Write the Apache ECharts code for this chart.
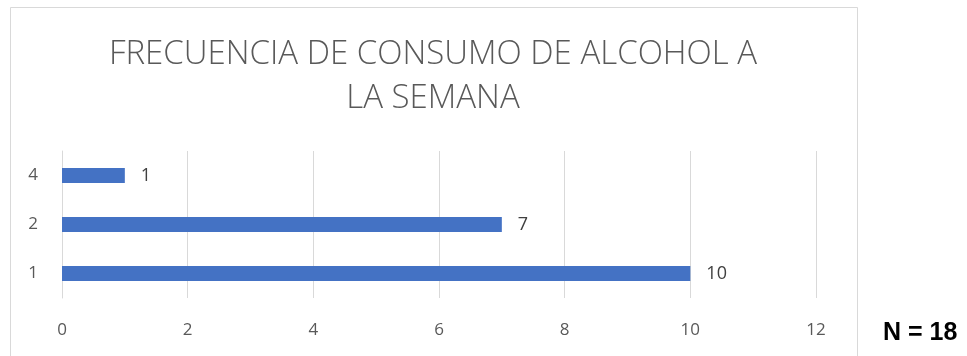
<!DOCTYPE html>
<html>
<head>
<meta charset="utf-8">
<script src="https://cdn.jsdelivr.net/npm/echarts@6/dist/echarts.min.js"></script>
<style>
html,body{margin:0;padding:0;background:#fff;}
#chart{width:967px;height:356px;}
</style>
</head>
<body>
<div id="chart"></div>
<script>
// Weekly alcohol consumption frequency
const titleText = 'FRECUENCIA DE CONSUMO DE ALCOHOL A\nLA SEMANA';
const categories = ['1', '2', '4'];
const counts = [10, 7, 1];
const xTicks = { min: 0, max: 12, interval: 2 };
const sampleNote = 'N = 18';

const chart = echarts.init(document.getElementById('chart'));
chart.setOption({
  animation: false,
  backgroundColor: '#fff',
  graphic: [
    {
      type: 'rect',
      shape: { x: 10.5, y: 7.5, width: 847, height: 360 },
      style: { fill: 'none', stroke: '#d9d9d9', lineWidth: 1 }
    },
    {
      type: 'text',
      left: 883, top: 321,
      style: { text: sampleNote, font: 'bold 25px "Liberation Sans", Arial', fill: '#000' }
    }
  ],
  title: {
    text: titleText,
    left: 428, top: 28,
    textAlign: 'center',
    textStyle: {
      fontFamily: '"Open Sans"', fontWeight: 300, fontSize: 33,
      color: '#595959', lineHeight: 44
    }
  },
  grid: { left: 62, right: 151, top: 151, bottom: 58, containLabel: false },
  xAxis: {
    type: 'value',
    min: xTicks.min, max: xTicks.max, interval: xTicks.interval,
    axisLine: { show: false }, axisTick: { show: false },
    splitLine: { lineStyle: { color: '#d9d9d9', width: 1 } },
    axisLabel: { color: '#595959', fontSize: 17, fontFamily: '"Open Sans"', margin: 24 }
  },
  yAxis: {
    type: 'category',
    data: categories,
    axisLine: { show: true, lineStyle: { color: '#d9d9d9' } },
    axisTick: { show: false },
    axisLabel: { color: '#595959', fontSize: 17, fontFamily: '"Open Sans"', margin: 24 }
  },
  series: [{
    type: 'bar',
    data: counts,
    barWidth: 15,
    itemStyle: { color: '#4472c4' },
    label: {
      show: true, position: 'right', distance: 16,
      color: '#404040', fontSize: 18, fontFamily: '"Open Sans"'
    }
  }]
});
</script>
</body>
</html>
